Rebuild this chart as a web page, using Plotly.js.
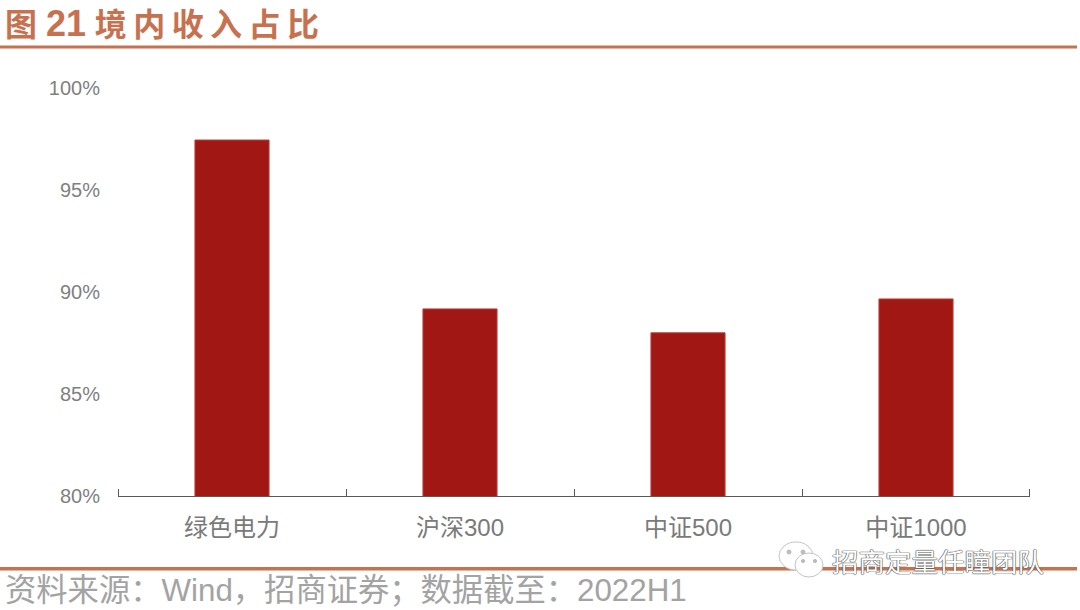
<!DOCTYPE html>
<html><head><meta charset="utf-8">
<script src="https://cdn.plot.ly/plotly-3.0.1.min.js"></script>
<style>html,body{margin:0;padding:0;background:#fff}#c{width:1080px;height:610px}</style>
</head><body><div id="c"></div>
<script>
const categories = ["绿色电力","沪深300","中证500","中证1000"];
const shareValues = [97.45, 89.17, 88.0, 89.66];
const yTicks = [80,85,90,95,100];
const yTickLabels = ["80%","85%","90%","95%","100%"];
const titleText = '图 <span style="font-size:36px">21</span> 境\u2009内\u2009收\u2009入\u2009占\u2009比';
const sourceText = "资料来源：Wind，招商证券；数据截至：2022H1";
const watermarkText = "招商定量任瞳团队";

const W=1080,H=610;
const fam='"Liberation Sans","Noto Sans CJK SC",sans-serif';
const px=x=>x/W, py=y=>1-y/H;
const accent='#c8714f';
const rule=(y0,y1)=>({type:'rect',xref:'paper',yref:'paper',x0:0,x1:px(1077),y0:py(y0),y1:py(y1),fillcolor:accent,line:{width:0},layer:'below'});
const ell=(cx,cy,rx,ry,fill,lc)=>({type:'circle',xref:'paper',yref:'paper',x0:px(cx-rx),x1:px(cx+rx),y0:py(cy+ry),y1:py(cy-ry),fillcolor:fill,line:{color:lc,width:1},layer:'above'});
const endTick=x=>({type:'line',xref:'paper',yref:'paper',x0:px(x),x1:px(x),y0:py(496),y1:py(489),line:{color:'#595959',width:1}});
const label=(text,x,y,size,color,extra)=>Object.assign({xref:'paper',yref:'paper',x:px(x),y:py(y),xanchor:'left',yanchor:'middle',text:text,showarrow:false,font:{family:fam,size:size,color:color}},extra||{});

Plotly.newPlot('c',[{
  type:'bar',x:categories,y:shareValues,
  marker:{color:'#a01713',line:{color:'#b8403c',width:1}},
  hoverinfo:'skip'
}],{
  width:W,height:H,margin:{l:0,r:0,t:0,b:0,pad:0},
  paper_bgcolor:'#fff',plot_bgcolor:'#fff',showlegend:false,bargap:0.675,
  xaxis:{domain:[px(118),px(1030)],type:'category',tickson:'boundaries',ticks:'inside',ticklen:7,tickwidth:1,tickcolor:'#595959',
    showline:true,linecolor:'#595959',linewidth:1,showgrid:false,zeroline:false,
    tickfont:{family:fam,size:24,color:'#7a7a7a'},ticklabelstandoff:10},
  yaxis:{domain:[py(496),py(88)],range:[80,100],tickmode:'array',tickvals:yTicks,ticktext:yTickLabels,
    showline:false,showgrid:false,zeroline:false,ticks:'',
    tickfont:{family:fam,size:20,color:'#7f7f7f'},ticklabelstandoff:17},
  shapes:[rule(45.5,48.5),rule(567,570.5),endTick(118.5),endTick(1029.5),
    ell(796,556,17,14,'#fff','#c4c4c4'),ell(809,565,14,12,'#fff','#c4c4c4'),
    ell(789,552,2,2,'#bbb','#bbb'),ell(803,552,2,2,'#bbb','#bbb'),
    ell(803,561,1.6,1.6,'#bbb','#bbb'),ell(815,561,1.6,1.6,'#bbb','#bbb')],
  annotations:[
    label(titleText,3,24,32,accent,{font:{family:fam,size:32,color:accent,weight:700}}),
    label(sourceText,3,590,31.3,'#a3a3a3'),
    label(watermarkText,830,563,26.5,'#ffffff',{font:{family:fam,size:26.5,color:'#ffffff',shadow:'0 0 1px #444, 0 0 1px #444, 0 0 1px #444'}})
  ]
},{displayModeBar:false,staticPlot:true});
</script></body></html>
